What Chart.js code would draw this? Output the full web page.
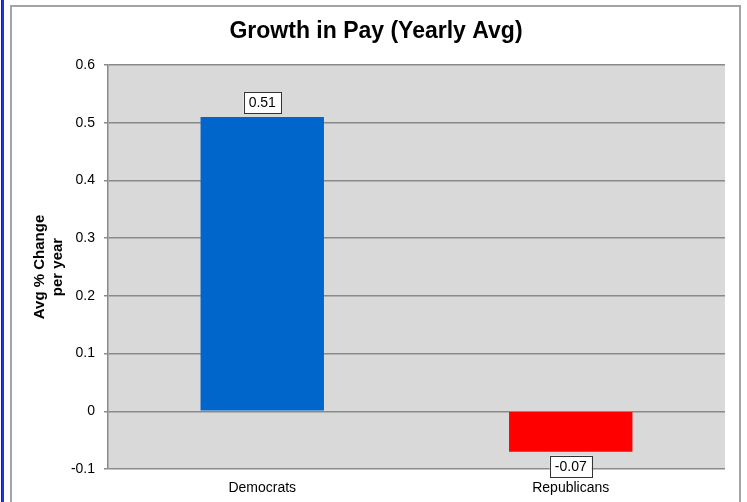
<!DOCTYPE html>
<html>
<head>
<meta charset="utf-8">
<script src="https://cdn.jsdelivr.net/npm/chart.js@4"></script>
<style>
    body { margin: 0; background: #ffffff; }
    #page { position: relative; width: 747px; height: 502px; overflow: hidden; }
    #edge { position: absolute; left: 1px; top: 0; width: 2px; height: 502px;
            background: #2233ee; border-left: 1px solid #1a237e; }
    #frame { position: absolute; left: 10px; top: 5px; width: 727px; height: 520px;
             border: 2px solid #a3a3a3; }
    #growthChart { position: absolute; left: 0; top: 0; }
</style>
</head>
<body>
<div id="page">
    <div id="edge"></div>
    <div id="frame"></div>
    <canvas id="growthChart" width="747" height="502"></canvas>
</div>
<script>
// =========================================
// Data
// =========================================

const parties = ["Democrats", "Republicans"];

const payGrowth = [0.51, -0.07];

const barColors = ["#0066cc", "#ff0000"];

const yTicks = [-0.1, 0, 0.1, 0.2, 0.3, 0.4, 0.5, 0.6];

const FONT = "'Liberation Sans', Arial, sans-serif";


// =========================================
// Plot background (grey panel)
// =========================================

const plotBackground = {
    id: "plotBackground",
    beforeDraw(chart) {
        const { ctx, chartArea } = chart;
        ctx.save();
        ctx.fillStyle = "#d9d9d9";
        ctx.fillRect(
            chartArea.left,
            chartArea.top,
            chartArea.right - chartArea.left,
            chartArea.bottom - chartArea.top
        );
        ctx.restore();
    }
};


// =========================================
// Boxed value labels
// =========================================

const boxedLabels = {
    id: "boxedLabels",
    afterDatasetsDraw(chart) {
        const { ctx } = chart;
        const meta = chart.getDatasetMeta(0);
        const values = chart.data.datasets[0].data;

        ctx.save();
        ctx.font = "14px " + FONT;
        ctx.textAlign = "center";
        ctx.textBaseline = "middle";

        meta.data.forEach((bar, i) => {
            const text = values[i].toFixed(2);
            const w = ctx.measureText(text).width + 10;
            const h = 21;
            const gap = 4;
            const cy = values[i] >= 0
                ? bar.y - gap - h / 2
                : bar.y + gap + h / 2;

            ctx.fillStyle = "#ffffff";
            ctx.fillRect(bar.x - w / 2, cy - h / 2, w, h);
            ctx.strokeStyle = "#333333";
            ctx.lineWidth = 1;
            ctx.strokeRect(
                Math.round(bar.x - w / 2) + 0.5,
                Math.round(cy - h / 2) + 0.5,
                Math.round(w),
                h
            );
            ctx.fillStyle = "#000000";
            ctx.fillText(text, bar.x, cy + 1);
        });

        ctx.restore();
    }
};


// =========================================
// Growth in Pay Chart
// =========================================

const growthCanvas =
    document.getElementById("growthChart");

if (growthCanvas) {

    new Chart(growthCanvas, {

        type: "bar",

        data: {
            labels: parties,
            datasets: [{
                data: payGrowth,
                backgroundColor: barColors,
                borderWidth: 0,
                categoryPercentage: 1,
                barPercentage: 0.4
            }]
        },

        options: {
            responsive: false,
            animation: false,

            layout: {
                padding: { left: 27, right: 22, top: 0, bottom: 0 }
            },

            plugins: {
                legend: { display: false },
                tooltip: { enabled: false },
                title: {
                    display: true,
                    text: "Growth in Pay (Yearly Avg)",
                    color: "#000000",
                    font: { family: FONT, size: 23, weight: "bold", lineHeight: 1.2 },
                    padding: { top: 18, bottom: 19.4 }
                }
            },

            scales: {
                x: {
                    grid: { display: false, drawTicks: false },
                    border: { display: false },
                    ticks: {
                        color: "#000000",
                        font: { family: FONT, size: 14 },
                        padding: 11
                    },
                    afterFit(scale) {
                        scale.height = 33;
                    }
                },
                y: {
                    min: -0.1,
                    max: 0.6,
                    afterBuildTicks(scale) {
                        scale.ticks = yTicks.map(v => ({ value: v }));
                    },
                    ticks: {
                        color: "#000000",
                        font: { family: FONT, size: 14 },
                        padding: 9,
                        callback: v => String(v)
                    },
                    grid: {
                        color: "#8a8a8a",
                        lineWidth: 1.5,
                        tickLength: 4,
                        tickColor: "#8a8a8a"
                    },
                    border: { display: true, color: "#8a8a8a", width: 1.5 },
                    title: {
                        display: true,
                        text: ["Avg % Change", "per year"],
                        color: "#000000",
                        font: { family: FONT, size: 15, weight: "bold", lineHeight: 1.2 },
                        padding: { top: 4, bottom: 0 }
                    },
                    afterFit(scale) {
                        scale.width = 81;
                    }
                }
            }
        },

        plugins: [plotBackground, boxedLabels]
    });
}
</script>
</body>
</html>
